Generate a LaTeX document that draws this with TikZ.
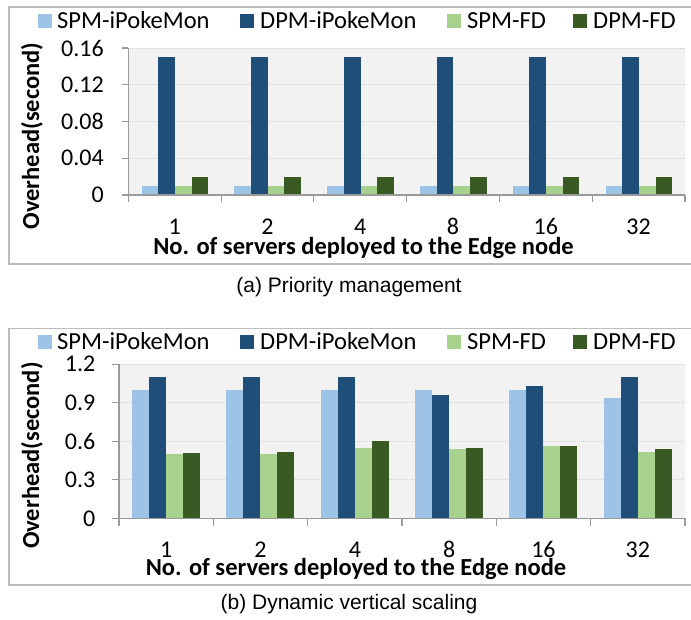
\documentclass[tikz,border=0pt]{standalone}
\usepackage{fontspec}
\setmainfont{Carlito}
\newfontfamily\capfont{Liberation Sans}
\definecolor{cA}{HTML}{9DC3E6}
\definecolor{cB}{HTML}{1F4E79}
\definecolor{cC}{HTML}{A9D18E}
\definecolor{cD}{HTML}{3A5A24}
\definecolor{plotbg}{HTML}{F2F2F2}
\definecolor{gridc}{HTML}{D0D0D0}
\definecolor{axisc}{HTML}{9A9A9A}
\definecolor{framec}{HTML}{BDBDBD}
\tikzset{
  chartframe/.style={draw=framec, line width=1.3pt},
  gridline/.style={draw=gridc, line width=0.8pt, dash pattern=on 1pt off 1pt},
  axisline/.style={draw=axisc, line width=1.1pt},
  ticklab/.style={inner sep=0pt, font=\fontsize{24}{28}\selectfont},
  legtext/.style={inner sep=0pt, anchor=base west, font=\fontsize{24.5}{28}\selectfont},
  legsq/.style={inner sep=0pt, minimum size=13.5pt, anchor=north west},
  axtitle/.style={inner sep=0pt, font=\fontsize{24.5}{28}\selectfont\bfseries},
  captext/.style={inner sep=0pt, anchor=base, font=\fontsize{21}{25}\selectfont\capfont},
}
\begin{document}
\begin{tikzpicture}[x=1pt,y=-1pt]
\useasboundingbox (0,0) rectangle (691,620);
\fill[white] (0,0) rectangle (691,620);

% ---------------- top chart ----------------
\draw[chartframe] (9,7) rectangle (693,264);
\fill[plotbg] (128.3,48) rectangle (685,195);
\foreach \yy in {48,84.75,121.5,158.25}
  \draw[gridline] (128.3,\yy) -- (685,\yy);
\foreach \i in {0,...,5}{
  \pgfmathsetmacro\gx{128.3+\i*92.78+13.33}
  \fill[cA] (\gx,195) rectangle ++(16.67,-9.19);
  \fill[cB] (\gx+16.67,195) rectangle ++(16.67,-137.8);
  \fill[cC] (\gx+33.33,195) rectangle ++(16.67,-9.19);
  \fill[cD] (\gx+50,195) rectangle ++(16.67,-18.4);
}
\draw[axisline] (128.3,48) -- (128.3,195) -- (685,195);
\foreach \yy/\lab in {48/0.16,84.75/0.12,121.5/0.08,158.25/0.04,195/0}{
  \draw[axisline] (121.7,\yy) -- (128.3,\yy);
  \node[ticklab, anchor=east] (ta\lab) at (104,\yy) {\lab};
}
\foreach \i/\lab in {0/1,1/2,2/4,3/8,4/16,5/32}{
  \pgfmathsetmacro\tx{128.3+\i*92.78}
  \draw[axisline] (\tx,195) -- (\tx,201.7);
  \node[ticklab, anchor=base] (xa\i) at (\tx+46.39,235) {\lab};
}
\draw[axisline] (685,195) -- (685,201.7);
\node[axtitle, anchor=base] (xta) at (363.5,254.3) {No. of servers deployed to the Edge node};
\node[axtitle, rotate=90] (yta) at (32,136) {Overhead(second)};
% legend
\node[legsq, fill=cA] (la1) at (38,14) {};
\node[legtext] (lt1) at (57,28.3) {SPM-iPokeMon};
\node[legsq, fill=cB] (la2) at (240,14) {};
\node[legtext] (lt2) at (260,28.3) {DPM-iPokeMon};
\node[legsq, fill=cC] (la3) at (447,14) {};
\node[legtext] (lt3) at (467,28.3) {SPM-FD};
\node[legsq, fill=cD] (la4) at (573,14) {};
\node[legtext] (lt4) at (593,28.3) {DPM-FD};
\node[captext] (capa) at (349,292.7) {(a) Priority management};

% ---------------- bottom chart ----------------
\draw[chartframe] (9,328.3) rectangle (693,585);
\fill[plotbg] (119,364.3) rectangle (685,518.3);
\foreach \yy in {364.3,402.8,441.3,479.8}
  \draw[gridline] (119,\yy) -- (685,\yy);
\foreach \i/\a/\b/\c/\d in {0/1.0/1.1/0.5/0.51, 1/1.0/1.1/0.5/0.52, 2/1.0/1.1/0.55/0.6, 3/1.0/0.96/0.54/0.55, 4/1.0/1.03/0.56/0.56, 5/0.94/1.1/0.52/0.54}{
  \pgfmathsetmacro\gx{119+\i*94.33+13.1}
  \fill[cA] (\gx,518.3) rectangle ++(17,-\a*128.33);
  \fill[cB] (\gx+17,518.3) rectangle ++(17,-\b*128.33);
  \fill[cC] (\gx+34,518.3) rectangle ++(17,-\c*128.33);
  \fill[cD] (\gx+51,518.3) rectangle ++(17,-\d*128.33);
}
\draw[axisline] (119,364.3) -- (119,518.3) -- (685,518.3);
\foreach \yy/\lab/\k in {364.3/1.2/a,402.8/0.9/b,441.3/0.6/c,479.8/0.3/d,518.3/0/e}{
  \draw[axisline] (112.4,\yy) -- (119,\yy);
  \node[ticklab, anchor=east] (tb\k) at (95.5,\yy) {\lab};
}
\foreach \i/\lab in {0/1,1/2,2/4,3/8,4/16,5/32}{
  \pgfmathsetmacro\tx{119+\i*94.33}
  \draw[axisline] (\tx,518.3) -- (\tx,525.5);
  \node[ticklab, anchor=base] (xb\i) at (\tx+47.17,557.5) {\lab};
}
\draw[axisline] (685,518.3) -- (685,525.5);
\node[axtitle, anchor=base] (xtb) at (356,575) {No. of servers deployed to the Edge node};
\node[axtitle, rotate=90] (ytb) at (32,455.6) {Overhead(second)};
% legend
\node[legsq, fill=cA] (lb1) at (38,335) {};
\node[legtext] (lu1) at (57,349.3) {SPM-iPokeMon};
\node[legsq, fill=cB] (lb2) at (240,335) {};
\node[legtext] (lu2) at (260,349.3) {DPM-iPokeMon};
\node[legsq, fill=cC] (lb3) at (447,335) {};
\node[legtext] (lu3) at (467,349.3) {SPM-FD};
\node[legsq, fill=cD] (lb4) at (573,335) {};
\node[legtext] (lu4) at (593,349.3) {DPM-FD};
\node[captext] (capb) at (349,609) {(b) Dynamic vertical scaling};
\end{tikzpicture}
\end{document}
